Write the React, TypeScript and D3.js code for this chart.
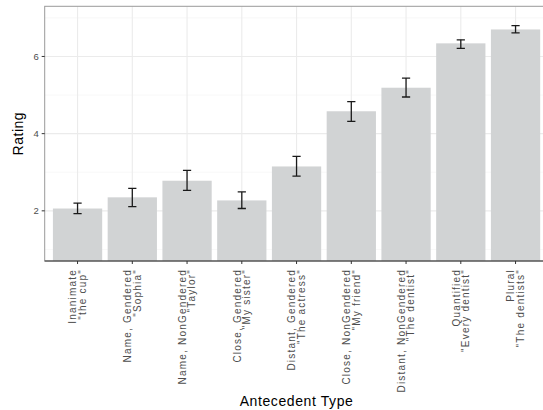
import * as React from 'react';
import * as d3 from 'd3';

const categories = [
  ['Inanimate', '"the cup"'],
  ['Name, Gendered', '"Sophia"'],
  ['Name, NonGendered', '"Taylor"'],
  ['Close, Gendered', '"My sister"'],
  ['Distant, Gendered', '"The actress"'],
  ['Close, NonGendered', '"My friend"'],
  ['Distant, NonGendered', '"The dentist"'],
  ['Quantified', '"Every dentist"'],
  ['Plural', '"The dentists"'],
];
const ratings = [2.06, 2.35, 2.78, 2.27, 3.15, 4.58, 5.19, 6.34, 6.70];
const errLow = [1.93, 2.11, 2.53, 2.06, 2.90, 4.32, 4.95, 6.21, 6.61];
const errHigh = [2.20, 2.58, 3.05, 2.49, 3.41, 4.83, 5.44, 6.43, 6.80];
const majorTicks = [2, 4, 6];
const minorTicks = [1, 3, 5, 7];

const W = 543;
const H = 410;
const panel = { left: 44.7, right: 548.4, top: 6.3, bottom: 261 };
const font = '"Liberation Sans", Arial, Helvetica, sans-serif';

export default function App() {
  const keys = categories.map((c) => c.join('\n'));
  const x = d3
    .scaleBand<string>()
    .domain(keys)
    .range([panel.left, panel.right])
    .paddingInner(0.1)
    .paddingOuter(0.15);
  const y = d3.scaleLinear().domain([0.7, 7.3]).range([panel.bottom, panel.top]);
  const cap = x.step() * 0.15;

  return (
    <svg
      width={W}
      height={H}
      style={{ position: 'absolute', left: 0, top: 0, background: '#fff' }}
      fontFamily={font}
    >
      <defs>
        <clipPath id="panel-clip">
          <rect x={panel.left} y={panel.top} width={panel.right - panel.left} height={panel.bottom - panel.top} />
        </clipPath>
      </defs>
      <g clipPath="url(#panel-clip)">
        {minorTicks.map((t) => (
          <line key={'mi' + t} x1={panel.left} x2={panel.right} y1={y(t)} y2={y(t)} stroke="#F3F3F3" strokeWidth={0.6} />
        ))}
        {majorTicks.map((t) => (
          <line key={'ma' + t} x1={panel.left} x2={panel.right} y1={y(t)} y2={y(t)} stroke="#EBEBEB" strokeWidth={1.1} />
        ))}
        {keys.map((k) => {
          const cx = x(k)! + x.bandwidth() / 2;
          return <line key={'v' + k} x1={cx} x2={cx} y1={panel.top} y2={panel.bottom} stroke="#EBEBEB" strokeWidth={1.1} />;
        })}
        {keys.map((k, i) => (
          <rect
            key={'b' + k}
            x={x(k)}
            y={y(ratings[i])}
            width={x.bandwidth()}
            height={panel.bottom - y(ratings[i])}
            fill="#D1D3D4"
          />
        ))}
        {keys.map((k, i) => {
          const cx = x(k)! + x.bandwidth() / 2;
          return (
            <g key={'e' + k} stroke="#1a1a1a" strokeWidth={1.3} fill="none">
              <line x1={cx} x2={cx} y1={y(errLow[i])} y2={y(errHigh[i])} />
              <line x1={cx - cap / 2} x2={cx + cap / 2} y1={y(errLow[i])} y2={y(errLow[i])} />
              <line x1={cx - cap / 2} x2={cx + cap / 2} y1={y(errHigh[i])} y2={y(errHigh[i])} />
            </g>
          );
        })}
      </g>
      {/* panel border */}
      <rect
        x={panel.left}
        y={panel.top}
        width={panel.right - panel.left}
        height={panel.bottom - panel.top}
        fill="none"
        stroke="#9a9a9a"
        strokeWidth={1}
      />
      <line x1={panel.left} x2={panel.right} y1={panel.bottom} y2={panel.bottom} stroke="#333" strokeWidth={1.1} />

      {/* y axis */}
      {majorTicks.map((t) => (
        <g key={'yt' + t}>
          <line x1={panel.left - 3} x2={panel.left} y1={y(t)} y2={y(t)} stroke="#333" strokeWidth={1} />
          <text x={panel.left - 6} y={y(t)} dy="0.35em" textAnchor="end" fontSize={9.5} fill="#4D4D4D">
            {t}
          </text>
        </g>
      ))}
      <text
        transform={`translate(${18},${(panel.top + panel.bottom) / 2}) rotate(-90)`}
        textAnchor="middle"
        dy="0.35em"
        fontSize={14}
        letterSpacing={0.5}
        fill="#000"
      >
        Rating
      </text>

      {/* x axis */}
      {keys.map((k, i) => {
        const cx = x(k)! + x.bandwidth() / 2;
        const lines = categories[i];
        return (
          <g key={'xt' + k}>
            <line x1={cx} x2={cx} y1={panel.bottom} y2={panel.bottom + 3} stroke="#333" strokeWidth={1} />
            {lines.map((l, j) => (
              <text
                key={j}
                transform={`translate(${cx + (j - 0.5) * 9.6},${panel.bottom + 8}) rotate(-90)`}
                textAnchor="end"
                dy="0.35em"
                fontSize={10}
                letterSpacing={1.2}
                fill="#4D4D4D"
              >
                {l}
              </text>
            ))}
          </g>
        );
      })}
      <text
        x={(panel.left + panel.right) / 2}
        y={401}
        dy="0.35em"
        textAnchor="middle"
        fontSize={14}
        letterSpacing={0.6}
        fill="#000"
      >
        Antecedent Type
      </text>
    </svg>
  );
}
